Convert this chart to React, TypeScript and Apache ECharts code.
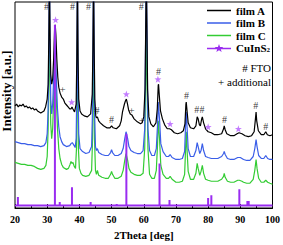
import { useEffect, useRef } from 'react';
import * as echarts from 'echarts';

// 2Theta [deg], intensity [a.u.]
const filmA: [number, number][] = [
  [20.0, 103], [20.5, 105], [21.0, 102], [21.5, 104], [22.0, 103], [22.5, 105], [23.0, 102], [23.5, 103],
  [24.0, 101], [24.5, 102], [25.0, 100], [25.5, 101], [26.0, 99], [26.5, 100], [27.0, 98], [27.5, 97],
  [28.0, 96], [28.5, 97], [29.0, 98], [29.5, 102], [30.0, 110], [30.3, 125], [30.5, 170], [30.7, 240],
  [30.9, 170], [31.1, 135], [31.4, 125], [31.7, 130], [32.0, 150], [32.3, 180], [32.5, 185], [32.7, 175],
  [33.0, 150], [33.3, 132], [33.6, 122], [34.0, 116], [34.5, 112], [35.0, 110], [35.5, 106], [36.0, 104],
  [36.5, 102], [37.0, 100], [37.4, 100], [37.7, 102], [38.0, 100], [38.5, 97], [39.0, 105], [39.2, 150],
  [39.4, 240], [39.6, 150], [39.8, 110], [40.2, 98], [40.7, 95], [41.5, 93], [42.5, 92], [43.5, 95],
  [44.0, 115], [44.2, 160], [44.4, 240], [44.6, 160], [44.8, 110], [45.1, 93], [45.3, 91], [45.6, 92],
  [46.0, 88], [46.5, 86], [47.5, 83], [48.5, 81], [49.5, 81], [50.0, 83], [50.5, 81], [51.5, 80],
  [52.5, 83], [53.0, 88], [53.4, 97], [54.0, 105], [54.3, 108], [54.6, 110], [54.9, 106], [55.3, 99],
  [55.8, 95], [56.3, 94], [57.0, 90], [58.0, 87], [59.0, 85], [59.5, 86], [60.0, 92], [60.4, 120],
  [60.8, 240], [61.2, 120], [61.6, 92], [62.2, 85], [63.0, 82], [63.8, 86], [64.2, 100], [64.5, 124],
  [64.6, 125], [64.8, 115], [65.2, 98], [65.8, 90], [66.5, 84], [67.3, 80], [68.0, 80], [68.6, 79],
  [69.5, 76], [70.5, 75], [71.5, 76], [72.3, 78], [72.8, 85], [73.1, 105], [73.2, 107], [73.4, 100],
  [73.8, 86], [74.5, 81], [75.5, 80], [76.2, 83], [76.6, 92], [76.9, 90], [77.3, 84], [77.6, 83],
  [78.0, 90], [78.2, 92], [78.6, 86], [79.2, 80], [80.0, 77], [81.0, 76], [82.0, 74], [83.0, 74],
  [84.2, 75], [84.8, 80], [85.0, 83], [85.3, 79], [85.8, 75], [87.0, 73], [88.0, 73], [89.0, 75],
  [89.6, 76], [90.5, 75], [91.5, 73], [92.5, 72], [93.5, 73], [94.3, 77], [94.7, 90], [94.9, 97],
  [95.1, 88], [95.6, 78], [96.5, 74], [97.3, 74], [97.9, 77], [98.4, 74], [99.2, 73], [100.0, 74],
];

const filmB: [number, number][] = [
  [20, 67], [21, 66], [22, 65], [23, 65], [24, 64], [25, 64], [26, 63], [27, 63], [28, 62], [29, 63],
  [29.6, 66], [30.0, 75], [30.3, 100], [30.5, 160], [30.7, 240], [30.9, 160], [31.1, 110], [31.4, 95],
  [31.7, 105], [32.0, 130], [32.3, 160], [32.45, 165], [32.6, 155], [32.9, 125], [33.2, 100], [33.6, 82],
  [34.0, 72], [34.5, 67], [35.0, 64], [36.0, 62], [37.0, 63], [37.4, 65], [37.8, 66], [38.2, 64],
  [38.7, 61], [39.0, 70], [39.2, 120], [39.4, 240], [39.6, 120], [39.8, 75], [40.2, 60], [41, 57],
  [42, 55], [43, 56], [43.8, 62], [44.1, 100], [44.4, 240], [44.7, 100], [45.0, 62], [45.3, 58],
  [45.6, 60], [46.0, 56], [47, 54], [48, 53], [49, 53], [49.7, 56], [50.0, 59], [50.3, 56], [51, 53],
  [52, 53], [53, 55], [53.6, 60], [54.1, 70], [54.5, 77], [54.7, 77], [55.0, 70], [55.4, 62], [56, 58],
  [57, 56], [58, 55], [59, 55], [59.8, 58], [60.3, 80], [60.8, 240], [61.3, 80], [61.8, 58], [62.5, 53],
  [63.3, 53], [63.9, 60], [64.3, 85], [64.5, 107], [64.7, 107], [64.9, 90], [65.3, 65], [66, 57],
  [67, 52], [67.7, 52], [68.2, 54], [68.8, 51], [70, 49], [71, 49], [72, 50], [72.7, 57], [73.0, 85],
  [73.2, 97], [73.4, 85], [73.8, 60], [74.5, 52], [75.5, 52], [76.2, 58], [76.6, 66], [76.9, 62],
  [77.4, 55], [77.8, 58], [78.2, 65], [78.6, 58], [79.2, 52], [80, 51], [81, 50], [82, 50], [83, 50],
  [84.2, 52], [84.8, 55], [85.0, 57], [85.3, 54], [86, 50], [87, 49], [88, 49], [89.2, 51], [90, 51],
  [91, 49], [92, 48], [93, 48], [94.0, 52], [94.5, 60], [94.9, 69], [95.2, 62], [95.7, 53], [96.5, 50],
  [97.3, 50], [97.9, 53], [98.5, 50], [99.2, 49], [100, 49],
];

const filmC: [number, number][] = [
  [20, 46], [21, 45], [22, 44], [23, 44], [24, 43], [25, 43], [26, 42], [27, 40], [28, 39], [29, 40],
  [29.6, 43], [30.0, 52], [30.3, 80], [30.5, 130], [30.7, 180], [30.9, 130], [31.1, 85], [31.4, 70],
  [31.7, 80], [32.0, 110], [32.3, 140], [32.45, 145], [32.6, 135], [32.9, 105], [33.2, 80], [33.6, 60],
  [34.0, 50], [34.5, 44], [35.0, 41], [36.0, 39], [36.6, 40], [37.1, 44], [37.4, 47], [37.7, 45],
  [38.0, 46], [38.4, 42], [38.8, 40], [39.1, 60], [39.4, 170], [39.7, 60], [40.0, 40], [40.5, 35],
  [41, 33], [42, 32], [43, 33], [43.8, 38], [44.1, 70], [44.4, 170], [44.7, 70], [45.0, 38], [45.3, 34],
  [45.6, 38], [46.0, 33], [47, 31], [48, 30], [49, 30], [49.7, 34], [50.0, 37], [50.3, 34], [51, 30],
  [52, 30], [53, 32], [53.6, 38], [54.1, 48], [54.5, 55], [54.7, 55], [55.0, 48], [55.4, 40], [56, 36],
  [57, 34], [58, 33], [59, 33], [59.8, 35], [60.3, 60], [60.8, 180], [61.3, 60], [61.8, 34], [62.5, 30],
  [63.3, 30], [63.9, 38], [64.3, 65], [64.5, 88], [64.7, 88], [64.9, 70], [65.3, 43], [66, 34], [67, 30],
  [67.7, 30], [68.2, 32], [68.8, 29], [70, 26], [71, 26], [72, 27], [72.7, 34], [73.0, 60], [73.2, 77],
  [73.4, 62], [73.8, 37], [74.5, 29], [75.5, 29], [76.2, 35], [76.6, 45], [76.9, 40], [77.4, 33],
  [77.8, 37], [78.2, 43], [78.6, 35], [79.2, 29], [80, 28], [81, 27], [82, 27], [83, 27], [84.2, 29],
  [84.8, 32], [85.0, 35], [85.3, 31], [86, 27], [87, 26], [88, 26], [89.2, 28], [89.7, 28], [90.5, 27],
  [91, 26], [92, 25], [93, 25], [94.0, 29], [94.5, 38], [94.9, 49], [95.2, 40], [95.7, 30], [96.5, 26],
  [97.3, 26], [97.9, 28], [98.5, 26], [99.2, 25], [100, 24],
];

// CuInS2 reference pattern
const cuinsPositions = [20.9, 32.4, 33.9, 37.7, 43.5, 51.6, 54.6, 64.9, 68.0, 80.0, 81.0, 89.7, 92.2, 92.6];
const cuinsHeights = [11, 185, 6, 21, 6, 4, 75, 45, 8, 10, 13, 19, 7, 7];
const cuinsBase = 2.5;

// peak annotations
const ftoMarks: [number, number][] = [
  [29.8, 203], [37.9, 203], [42.8, 203], [59.2, 203], [45.5, 98], [50.0, 89], [64.6, 138],
  [73.3, 114], [76.5, 99], [78.1, 99], [85.1, 89], [94.8, 103], [97.9, 82],
];
const additionalMarks: [number, number][] = [[34.8, 120], [56.2, 99], [59.4, 89]];
const cuinsMarks: [number, number][] = [
  [32.6, 190], [37.6, 107], [54.6, 115], [64.4, 130], [68.2, 85], [80.0, 82], [89.4, 80],
];

const xTicks = { min: 20, max: 100, interval: 10 };

const FONT = 'Liberation Serif';
const STAR = 'path://M12,1.5L13.06,4.54L16.28,4.61L13.71,6.56L14.65,9.64L12,7.8L9.35,9.64L10.29,6.56L7.72,4.61L10.94,4.54Z';
const STAR_LINE = 'path://M0,5.3H24V6.7H0Z M12,1.5L13.06,4.54L16.28,4.61L13.71,6.56L14.65,9.64L12,7.8L9.35,9.64L10.29,6.56L7.72,4.61L10.94,4.54Z';
const LINE_ICON = 'path://M0,0H24V1.5H0Z';

export default function App() {
  const ref = useRef<HTMLDivElement>(null);
  useEffect(() => {
    const chart = echarts.init(ref.current!, null, { renderer: 'svg' });
    const sticks: [number, number][] = [[20, cuinsBase]];
    cuinsPositions.forEach((p, i) => {
      sticks.push([p, cuinsBase], [p, cuinsHeights[i]], [p, cuinsBase]);
    });
    sticks.push([100, cuinsBase]);

    const markSeries = (name: string, data: [number, number][], text: string, size: number) => ({
      name,
      type: 'scatter',
      data,
      symbolSize: 1,
      itemStyle: { color: 'rgba(0,0,0,0)' },
      silent: true,
      z: 5,
      label: {
        show: true,
        position: 'inside',
        formatter: text,
        color: '#000',
        fontSize: size,
        fontFamily: FONT,
      },
    });

    chart.setOption({
      animation: false,
      grid: { left: 15, right: 9, top: 2, bottom: 35, show: true, borderColor: '#000', borderWidth: 1 },
      legend: {
        orient: 'vertical',
        left: 207,
        top: 5,
        padding: 0,
        itemWidth: 24,
        itemHeight: 12,
        itemGap: 1.5,
        data: [
          { name: 'film A', icon: LINE_ICON },
          { name: 'film B', icon: LINE_ICON },
          { name: 'film C', icon: LINE_ICON },
          { name: 'CuInS2', icon: STAR_LINE },
        ],
        formatter: (n: string) => (n === 'CuInS2' ? 'CuInS{sub|2}' : n),
        textStyle: {
          fontFamily: FONT,
          fontWeight: 'bold',
          fontSize: 11,
          color: '#000',
          rich: {
            sub: { fontFamily: FONT, fontWeight: 'bold', fontSize: 7, verticalAlign: 'bottom', padding: [4, 0, 0, 0] },
          },
        },
      },
      xAxis: {
        type: 'value',
        min: xTicks.min,
        max: xTicks.max,
        interval: xTicks.interval,
        name: '2Theta [deg]',
        nameLocation: 'middle',
        nameGap: 21,
        nameTextStyle: { fontFamily: FONT, fontWeight: 'bold', fontSize: 11, color: '#000' },
        axisLine: { show: true, lineStyle: { color: '#000', width: 1 } },
        axisTick: { show: true, inside: true, length: 4, lineStyle: { color: '#000' } },
        minorTick: { show: true, splitNumber: 2, length: 3, lineStyle: { color: '#000' } },
        splitLine: { show: false },
        axisLabel: { fontFamily: FONT, fontWeight: 'bold', fontSize: 10, color: '#000', margin: 6 },
      },
      yAxis: {
        type: 'value',
        min: 0,
        max: 208,
        axisLine: { show: false },
        axisTick: { show: false },
        axisLabel: { show: false },
        splitLine: { show: false },
      },
      graphic: [
        {
          type: 'text',
          x: 6,
          y: 91,
          rotation: Math.PI / 2,
          style: {
            text: 'Intensity [a.u.]',
            fontFamily: FONT,
            fontWeight: 'bold',
            fontSize: 13,
            fill: '#000',
            align: 'center',
            verticalAlign: 'middle',
          },
        },
        {
          type: 'text',
          x: 271,
          y: 68,
          style: { text: '# FTO', fontFamily: FONT, fontSize: 11, fill: '#000', align: 'right', verticalAlign: 'middle' },
        },
        {
          type: 'text',
          x: 271,
          y: 82,
          style: { text: '+ additional', fontFamily: FONT, fontSize: 11, fill: '#000', align: 'right', verticalAlign: 'middle' },
        },
      ],
      series: [
        { name: 'film C', type: 'line', data: filmC, symbol: 'none', color: '#33cc33', lineStyle: { width: 1.2, color: '#33cc33' } },
        { name: 'film B', type: 'line', data: filmB, symbol: 'none', color: '#3a5ee8', lineStyle: { width: 1.2, color: '#3a5ee8' } },
        { name: 'film A', type: 'line', data: filmA, symbol: 'none', color: '#000000', lineStyle: { width: 1.2, color: '#000000' } },
        { name: 'CuInS2', type: 'line', data: sticks, symbol: 'none', color: '#9a2cf0', lineStyle: { width: 2, color: '#9a2cf0' } },
        markSeries('FTO marks', ftoMarks, '#', 10),
        markSeries('additional marks', additionalMarks, '+', 11),
        {
          name: 'CuInS2 marks',
          type: 'scatter',
          data: cuinsMarks,
          symbol: STAR,
          symbolSize: 7,
          silent: true,
          z: 5,
          itemStyle: { color: '#b45cff' },
        },
      ],
    });
    return () => chart.dispose();
  }, []);
  return <div ref={ref} style={{ position: 'absolute', left: 0, top: 0, width: 283, height: 245 }} />;
}
